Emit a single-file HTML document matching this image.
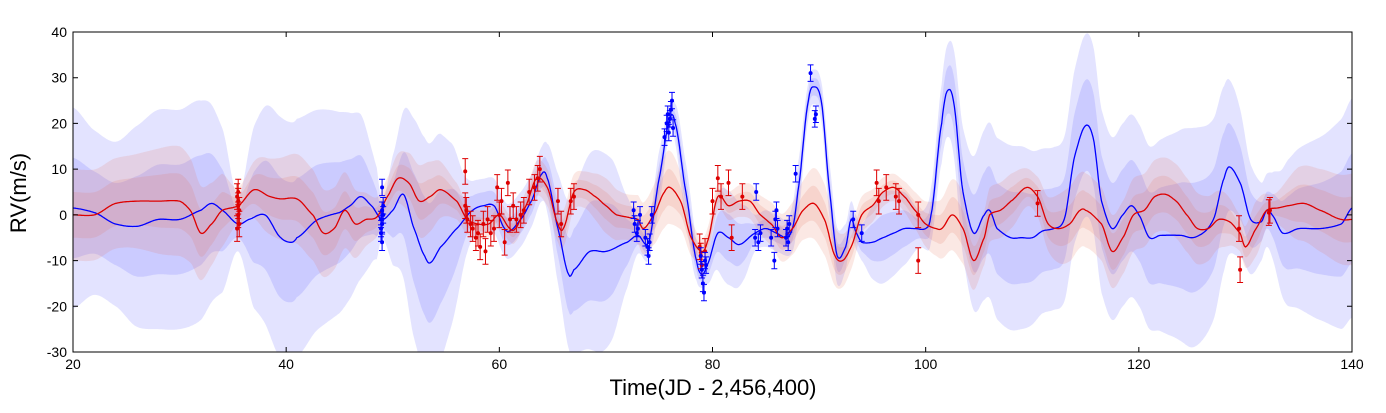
<!DOCTYPE html>
<html><head><meta charset="utf-8"><style>
body{margin:0;background:#fff;}
svg{display:block;font-family:"Liberation Sans",sans-serif;}
</style></head><body>
<svg id="c" width="1386" height="413"></svg>
<script>
const blueT=[20,22,24,26,28,30,32,33,34,35.5,36.5,38,39.5,40.5,41,43,45,46,47,48,49,50,51,52,53,53.5,54.5,56,57.5,58.5,59.5,60.5,61,62,63,64,64.5,65.5,66.5,67,68.5,70,72,73,74,75,76,76.5,77.5,78.5,79,79.5,80.5,81.5,82.5,84,85,86,87,87.5,88,89,89.5,90.2,91,91.7,92.5,93,93.5,94,95,96,97,98,99,100,100.5,101.5,102,102.6,103.5,104.5,105.5,106,106.7,108,109,110,111,112,113,114,115,115.7,116.5,117.5,118.5,119.3,120,121,122,124,125,126,127,128,128.5,129.5,130.5,131.5,132,132.5,133.5,135,137,139,140];
const blueMean=[1.5,0.5,-2,-2.5,-1,-1,1,2.5,1,-2,-1,0,-5,-6,-5,-1,0.5,2,4,2,-1,1,4.5,-3,-9,-10.5,-7,-3,1,2,2,-3,-3.5,-1,3,9,8,-3,-13,-12,-8,-8,-6,-4.5,-6,8,21,20,5,-10,-13,-11,-4,-5,-6.5,-4,-3,-4,-5,-3,5,25,28,25,5,-9,-7,-1,-4,-6,-6,-5,-4,-3,-3,-3,0,20,27,25,5,-4,0,1,-3,-5,-5,-5,-3.5,-3,-1,13,19.5,17,3,-3,0,2,0,-5,-4.5,-4.5,-5,-4,-1,8,10.5,7,-1,-1.5,1,0,-4,-3,-3,-2,1.5];
const blueSigT=[20,22,24,26,28,30,32,34,35.5,37,39,41,43,45,47,48.5,49,50,52,54,55.5,57,58,60,62,64,65.5,67,69,70.5,72,73,74,75,76,77,78,79,80,81,82,83,84,85,86,87,88,89,90,91,92,93,94,95,96,98,99.5,100.5,102,103.5,105,107,109,111,113,115,117,119,121,123,125,127,129,130.5,132,134,137,140];
const blueSig=[11,9,9,11,12,12,12,9,3,10,13,13,12,11,9,5,2,6,12,13,10,4,3,3,3,3,6,9,11,10,5,2,2,3,1.5,3,3,1.5,3,5,5,4,2,2,2,2,3,2,2,3,3,2,2,4,5,4,2,3,5,7,9,10,10,9,9,10,10,10,10,11,12,11,9,6,4,8,10,12];
const redT=[20,22,24,26,28,30,31,32,33,34,35.5,37,38.5,39.5,41,42.5,43.5,44.5,45.5,46.5,47.5,48.5,49.5,50.5,51.5,52.5,53.5,54.5,56,57,58,59,60,61,61.5,62.5,63.5,64.5,65.5,66,67,68,69,70,71,73,73.5,74.5,75.5,76,77,78,79,79.5,80.5,81.5,82.5,83.5,84.5,85.5,86.5,87.5,88.5,89.5,90.5,91.5,92.2,93,94,95,96,97,98,99,100,101,101.5,102.5,103.5,104.5,105.5,106,107,108,109.5,110.5,111.5,112.5,113.5,114.5,115,116.5,117.5,118.5,119.5,120.5,121.5,122.5,123.5,124.5,125.5,126.5,127.5,128.5,129.5,130,131,132,133,134,135.5,137,139,140];
const redMean=[0,0,2.5,3,3,3,1,-4,-2,1,2,5.5,4,3.5,3.5,0,-4,-3,1,-2,-1,-0.5,4,8,7,3,4,5.5,3,-1,-2,-2,0,-3,-3,2,8,6,-2,-3,5,5.5,4,2,0,-1,-3,0,5,6,3,-5,-8,-6,4,2,3,3,0,-2,-5,-3,1,2.5,-1,-9,-10,-7,0,2,5,6,4,1,-2,-3,-3,0,-3,-10,-5,0,1,3,6,4,-2,-3,-2,1,1,-2,-8,-5,0,1,4,4.5,3,0,-3,-3,-1,-1.5,-4,-7,-3,1,1.5,2,2.5,1,-1,-1];
const redSigT=[20,25,30,34,35.5,38,42,46,49,51,53,56,58,62,64,66,68,70,72,74,76,78,79,81,84,86,88,90,92,94,97,99,101,103,105,108,110,113,116,119,122,125,128,129.5,131,132.5,135,140];
const redSig=[5,5,6,4,2,4,5,4,2,3,4,2,1.5,1.5,2,2,2,3,2.5,3,4,2,1.5,1.5,2,2.5,3,4,3,2,1.5,2,3,4,3,3,2,4,4,4,4,4,3,2,3,1.5,4,5];
const redPtsT=[35.4,35.5,35.5,35.6,35.5,35.4,35.6,35.5,56.8,56.8,56.9,57.0,57.3,57.5,57.8,58.0,58.2,58.5,58.7,58.9,59.2,59.5,59.8,60.0,60.2,60.5,60.8,61.0,61.3,61.6,62.0,62.3,62.8,63.3,63.6,63.8,65.5,65.8,66.7,67.0,78.8,78.9,79.0,79.3,80.0,80.5,80.8,81.5,81.8,82.8,95.4,95.6,96.3,97.2,97.5,99.3,99.3,110.5,129.4,129.5,132.2,132.3];
const redPtsV=[4,2,0,-2,3,-3,1,5,9.5,2,1,-1,-2,-3,-5,-4,-7,-2,-8,-1,-4,-3,6,0,3,-6,7,-1,2,-1,0,1,5,6,8,10,3,-2,3,4,-7,-9,-11,-8,3,8,4,7,-5,4,7,3,6,4,3,0,-10,2.5,-3,-12,0.5,1];
const bluePtsT=[48.9,49.0,49.1,48.9,49.0,49.1,49.0,49.0,48.9,72.6,72.7,72.9,73.0,73.2,73.7,73.9,74.0,74.1,74.3,75.5,75.7,75.8,76.0,76.1,76.2,76.3,75.9,78.9,79.0,79.1,79.2,79.3,79.4,84.0,84.1,84.3,84.5,85.5,85.8,85.9,86.0,86.1,86.9,87.0,87.1,87.2,87.8,89.2,89.6,89.7,93.2,94.0];
const bluePtsV=[-3,6,2,-1,-6,0,1,-2,-4,1,-2,-4,-3,0,-5,-7,-9,-6,0,17,20,22,21,23,25,19,18,-9,-12,-15,-17,-10,-11,-5,5,-6,-4,-5,-10,-1,1,-3,-5,-3,-6,-2,9,31,21,22,-1,-4];
const xTicks=[20,40,60,80,100,120,140];
const yTicks=[-30,-20,-10,0,10,20,30,40];

const NS="http://www.w3.org/2000/svg";
const svg=document.getElementById('c');
const L=73,R=1352,T=32,B=352;
const X=t=>L+(t-20)*(R-L)/120;
const Y=v=>B-(v+30)*(B-T)/70;
function interp(ts,vs,t){
  let i=0; while(i<ts.length-2&&ts[i+1]<t)i++;
  const t0=ts[i],t1=ts[i+1];
  const p0=vs[Math.max(i-1,0)],p1=vs[i],p2=vs[i+1],p3=vs[Math.min(i+2,vs.length-1)];
  const s=Math.max(0,Math.min(1,(t-t0)/(t1-t0)));
  const m1=(p2-p0)/2*0.8,m2=(p3-p1)/2*0.8;
  const s2=s*s,s3=s2*s;
  return (2*s3-3*s2+1)*p1+(s3-2*s2+s)*m1+(-2*s3+3*s2)*p2+(s3-s2)*m2;
}
function mk(tag,attrs){const e=document.createElementNS(NS,tag);for(const k in attrs)e.setAttribute(k,attrs[k]);svg.appendChild(e);return e;}
const clip=mk('clipPath',{id:'pc'});
const cr=document.createElementNS(NS,'rect');cr.setAttribute('x',L);cr.setAttribute('y',T);cr.setAttribute('width',R-L);cr.setAttribute('height',B-T);clip.appendChild(cr);
function band(mT,mV,sT,sV,k,fill,name){
  const up=[],dn=[];
  for(let t=20;t<=140.001;t+=0.1){const m=interp(mT,mV,t),s=Math.max(1,interp(sT,sV,t));up.push(X(t).toFixed(1)+','+Y(m+k*s).toFixed(1));dn.unshift(X(t).toFixed(1)+','+Y(m-k*s).toFixed(1));}
  const p=mk('polygon',{points:up.concat(dn).join(' '),fill:fill,'clip-path':'url(#pc)'});
  
  
}
function line(mT,mV,col,name){
  const pts=[];for(let t=20;t<=140.001;t+=0.1)pts.push(X(t).toFixed(1)+','+Y(interp(mT,mV,t)).toFixed(1));
  const p=mk('polyline',{points:pts.join(' '),fill:'none',stroke:col,'stroke-width':1.3,'clip-path':'url(#pc)'});
  
  
}
band(blueT,blueMean,blueSigT,blueSig,2,'rgba(90,90,255,0.17)','blue-band-2sigma');
band(blueT,blueMean,blueSigT,blueSig,1,'rgba(90,90,255,0.17)','blue-band-1sigma');
band(redT,redMean,redSigT,redSig,2,'rgba(230,110,90,0.16)','red-band-2sigma');
band(redT,redMean,redSigT,redSig,1,'rgba(230,110,90,0.16)','red-band-1sigma');
line(blueT,blueMean,'#0000ff','blue-mean-line');
line(redT,redMean,'#dd0000','red-mean-line');
function pts(ts,vs,err,col,name){
  for(let i=0;i<ts.length;i++){
    const x=X(ts[i]),y=Y(vs[i]),y1=Y(vs[i]+err),y2=Y(vs[i]-err);
    const g=mk('path',{d:`M${x},${y1}V${y2}M${x-3},${y1}H${x+3}M${x-3},${y2}H${x+3}`,stroke:col,'stroke-width':1,fill:'none'});
    
    
    const c=mk('circle',{cx:x,cy:y,r:2,fill:col});
    
    
  }
}
pts(redPtsT,redPtsV,2.8,'#dd0000','red-data');
pts(bluePtsT,bluePtsV,1.8,'#0000ff','blue-data');
const fr=mk('rect',{x:L,y:T,width:R-L,height:B-T,fill:'none',stroke:'#000','stroke-width':1});


xTicks.forEach(t=>{
  const x=X(t);
  mk('path',{d:`M${x},${B}v-5M${x},${T}v5`,stroke:'#000'});
  const tx=mk('text',{x:x,y:B+17,'text-anchor':'middle','font-size':14});
  tx.textContent=t;
  
  
});
yTicks.forEach(v=>{
  const y=Y(v);
  mk('path',{d:`M${L},${y}h5M${R},${y}h-5`,stroke:'#000'});
  const tx=mk('text',{x:L-6,y:y+5,'text-anchor':'end','font-size':14});
  tx.textContent=v;
  
  
});
const xt=mk('text',{x:713,y:395,'text-anchor':'middle','font-size':22});
xt.textContent='Time(JD - 2,456,400)';


const yt=mk('text',{x:0,y:0,'text-anchor':'middle','font-size':22,transform:'translate(26,193) rotate(-90)'});
yt.textContent='RV(m/s)';


</script>
</body></html>
